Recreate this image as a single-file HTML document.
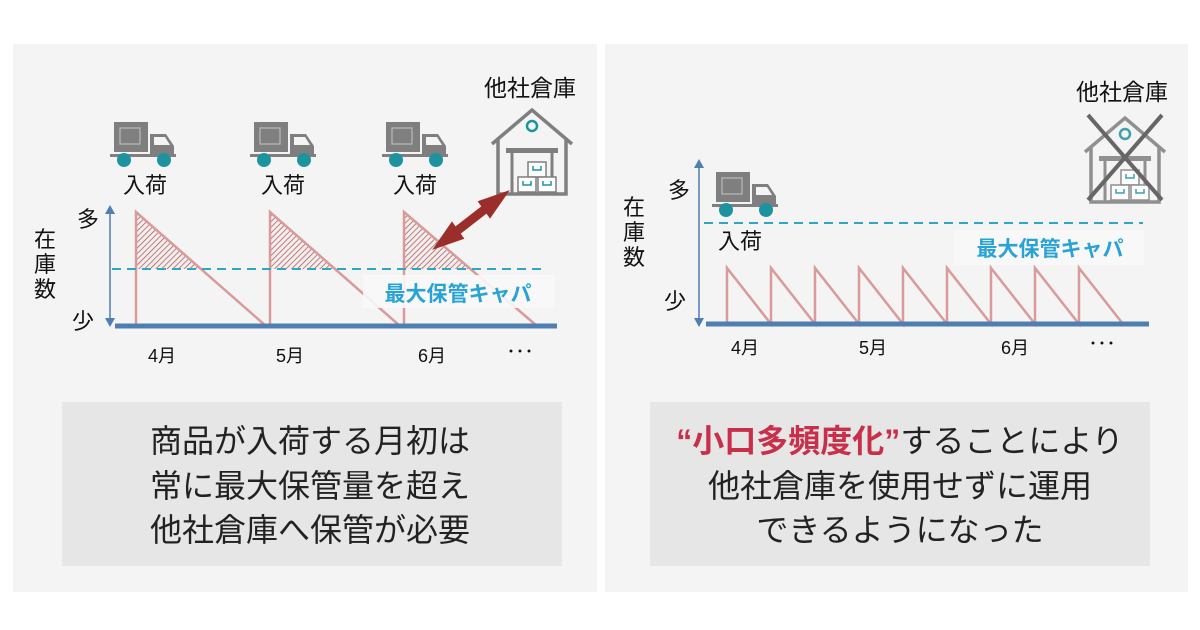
<!DOCTYPE html>
<html><head><meta charset="utf-8"><style>
body{margin:0;width:1200px;height:630px;background:#fff;overflow:hidden;font-family:"Liberation Sans","Noto Sans CJK JP",sans-serif}
svg{position:absolute;left:0;top:0}
</style></head><body>
<svg width="1200" height="630" viewBox="0 0 1200 630" font-family="Liberation Sans, Noto Sans CJK JP, sans-serif">
<defs>
<pattern id="h" width="4" height="4" patternUnits="userSpaceOnUse" patternTransform="rotate(45)"><rect width="4" height="4" fill="#f3eded"/><line x1="0" y1="0" x2="0" y2="4" stroke="#a04545" stroke-width="1.3"/></pattern>
<g id="truck">
<rect x="4" y="0" width="34" height="30" fill="#7f7f7f"/>
<rect x="10" y="6" width="20" height="16" fill="none" stroke="#bbb" stroke-width="1.2"/>
<path d="M40 12 H56 L64 24 V34 H40 Z" fill="#7f7f7f"/>
<path d="M44 15 H55 L60 23 H44 Z" fill="#f4f4f4"/>
<rect x="0" y="32" width="66" height="3" fill="#7f7f7f"/>
<circle cx="14" cy="38" r="7" fill="#1e93a0"/><circle cx="54" cy="38" r="7" fill="#1e93a0"/>
</g>
<g id="house">
<path d="M2 40 L42 6 L82 40" fill="none" stroke="#7f7f7f" stroke-width="3.5"/>
<path d="M8 36 V90 H76 V36" fill="none" stroke="#7f7f7f" stroke-width="3.5"/>
<rect x="16" y="44" width="52" height="5" fill="#7f7f7f"/>
<path d="M22 49 V90 M62 49 V90" stroke="#7f7f7f" stroke-width="3"/>
<circle cx="42" cy="22" r="5" fill="none" stroke="#1e93a0" stroke-width="2.5"/>
<rect x="38" y="58" width="18" height="15" fill="#fff" stroke="#7f7f7f" stroke-width="1.5"/>
<rect x="28" y="73" width="18" height="15" fill="#fff" stroke="#7f7f7f" stroke-width="1.5"/>
<rect x="48" y="73" width="18" height="15" fill="#fff" stroke="#7f7f7f" stroke-width="1.5"/>
<path d="M43 62 v4 h8 v-4 M33 77 v4 h8 v-4 M53 77 v4 h8 v-4" fill="none" stroke="#1e93a0" stroke-width="1.5"/>
</g>
</defs>
<rect x="13" y="44" width="584" height="548" fill="#f4f4f4"/>
<rect x="605" y="44" width="583" height="548" fill="#f4f4f4"/>
<rect x="62" y="402" width="500" height="164" fill="#e6e6e6"/>
<rect x="650" y="402" width="500" height="164" fill="#e6e6e6"/>

<!-- LEFT -->
<use href="#truck" x="110" y="122"/><use href="#truck" x="250" y="122"/><use href="#truck" x="382" y="122"/>
<g font-size="22" fill="#111" text-anchor="middle"><text x="145" y="193">入荷</text><text x="283" y="193">入荷</text><text x="415" y="193">入荷</text></g>
<text x="530" y="96" font-size="23" text-anchor="middle" fill="#111">他社倉庫</text>
<use href="#house" x="490" y="104"/>
<line x1="110" y1="212" x2="110" y2="322" stroke="#4f7fb0" stroke-width="1.5"/>
<path d="M105 214 L110 205 L115 214 Z M105 318 L110 327 L115 318 Z" fill="#4f7fb0"/>
<g font-size="22" fill="#111" text-anchor="middle"><text x="88" y="227">多</text><text x="83" y="329">少</text>
<text x="45" y="247">在</text><text x="45" y="272">庫</text><text x="45" y="297">数</text></g>
<path d="M136 212 L201 269 H136 Z M270 212 L335 269 H270 Z M404 212 L469 269 H404 Z" fill="url(#h)"/>
<g stroke="#d99a9a" stroke-width="2.5" fill="none"><path d="M136 326 V212 L266 326"/><path d="M270 326 V212 L400 326"/><path d="M404 326 V212 L537 326"/></g>
<rect x="363" y="275" width="192" height="33" fill="#f8f8f8" opacity="0.9"/>
<line x1="112" y1="269" x2="547" y2="269" stroke="#2ea6c6" stroke-width="2" stroke-dasharray="9,6"/>
<text x="458" y="301" font-size="21" font-weight="bold" fill="#29a3d4" text-anchor="middle">最大保管キャパ</text>
<line x1="115" y1="326" x2="557" y2="326" stroke="#4f7fb0" stroke-width="5"/>
<g font-size="18" fill="#111" text-anchor="middle"><text x="162" y="362">4月</text><text x="290" y="362">5月</text><text x="432" y="362">6月</text><text x="520" y="358">･･･</text></g>
<path d="M444 241 L498 199" stroke="#9b2e2a" stroke-width="9"/>
<path d="M436 247 L452 224 L462 238 Z M506 193 L490 216 L480 202 Z" fill="#9b2e2a" stroke="#9b2e2a" stroke-width="3"/>
<g font-size="32" fill="#222" text-anchor="middle"><text x="310" y="452">商品が入荷する月初は</text><text x="310" y="497">常に最大保管量を超え</text><text x="310" y="541">他社倉庫へ保管が必要</text></g>

<!-- RIGHT -->
<text x="1122" y="100" font-size="23" text-anchor="middle" fill="#111">他社倉庫</text>
<use href="#house" x="1083" y="112" opacity="0.85"/>
<path d="M1088 115 L1162 200 M1162 115 L1088 200" stroke="#666" stroke-width="4"/>
<use href="#truck" x="712" y="172"/>
<text x="740" y="249" font-size="22" text-anchor="middle" fill="#111">入荷</text>
<line x1="699" y1="166" x2="699" y2="320" stroke="#4f7fb0" stroke-width="1.5"/>
<path d="M694 168 L699 159 L704 168 Z M694 318 L699 327 L704 318 Z" fill="#4f7fb0"/>
<g font-size="22" fill="#111" text-anchor="middle"><text x="679" y="198">多</text><text x="675" y="309">少</text>
<text x="634" y="215">在</text><text x="634" y="240">庫</text><text x="634" y="265">数</text></g>
<rect x="954" y="230" width="190" height="35" fill="#f8f8f8" opacity="0.9"/>
<line x1="704" y1="223" x2="1143" y2="223" stroke="#2ea6c6" stroke-width="2" stroke-dasharray="9,6"/>
<text x="1050" y="256" font-size="21" font-weight="bold" fill="#29a3d4" text-anchor="middle">最大保管キャパ</text>
<path d="M727 324 V268 L771 324 V268 L815 324 V268 L859 324 V268 L903 324 V268 L947 324 V268 L991 324 V268 L1035 324 V268 L1079 324 V268 L1123 324" stroke="#d99a9a" stroke-width="2.5" fill="none"/>
<line x1="706" y1="324" x2="1149" y2="324" stroke="#4f7fb0" stroke-width="5"/>
<g font-size="18" fill="#111" text-anchor="middle"><text x="745" y="354">4月</text><text x="873" y="354">5月</text><text x="1015" y="354">6月</text><text x="1102" y="350">･･･</text></g>
<g font-size="32" fill="#222" text-anchor="middle"><text x="900" y="452"><tspan fill="#c8304a" font-weight="bold">“小口多頻度化”</tspan>することにより</text><text x="900" y="497">他社倉庫を使用せずに運用</text><text x="900" y="541">できるようになった</text></g>
</svg>
</body></html>
